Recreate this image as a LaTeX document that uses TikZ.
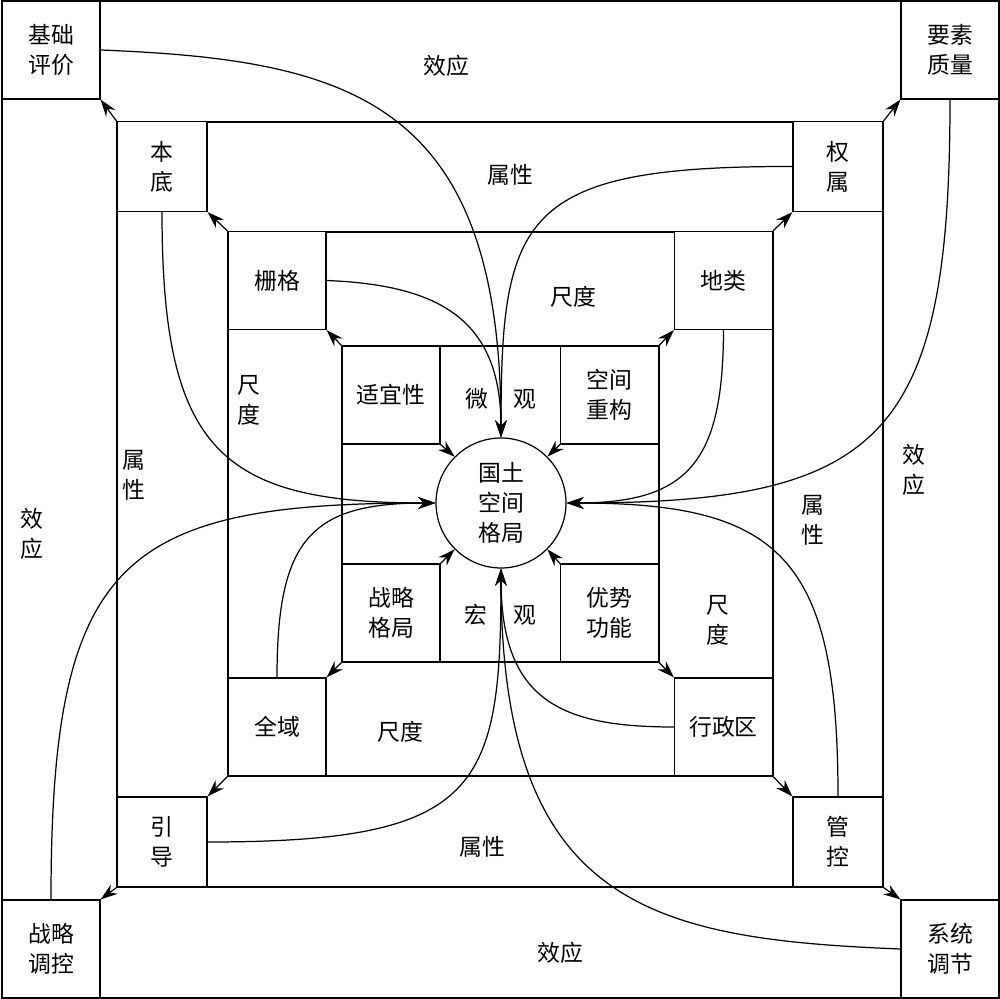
\documentclass[tikz,border=0pt]{standalone}
\usepackage{fontspec}
\setmainfont{Noto Sans CJK SC}
\usetikzlibrary{arrows.meta}

\begin{document}
\begin{tikzpicture}[x=0.02cm,y=-0.02cm,line width=0.7pt,
	every node/.style={font=\fontsize{13pt}{17pt}\selectfont,align=center,inner sep=0pt},
	bigbox/.style={draw,fill=white,minimum size=1.96cm},
	midbox/.style={draw,fill=white,minimum size=1.8cm},
	arr/.style={-{Stealth[length=0.34cm,width=0.23cm]}},
	link/.style={-{Stealth[length=0.34cm,width=0.23cm]}}]

			\useasboundingbox (0,0) rectangle (1000,999);

			\draw (2,1) rectangle (999,998);
			\draw (117,122) rectangle (883,887);
			\draw (228,232) rectangle (773,776);
			\draw (342,346) rectangle (659,662);

			\node[bigbox] (jichu) at (51,50) {基础\\评价};
			\node[bigbox] (yaosu) at (950,50) {要素\\质量};
			\node[bigbox] (tiaokong) at (51,949) {战略\\调控};
			\node[bigbox] (tiaojie) at (950,949) {系统\\调节};

			\node[midbox] (bendi) at (162,166.5) {本\\底};
			\node[midbox] (quanshu) at (838,166.5) {权\\属};
			\node[midbox] (yindao) at (162,842) {引\\导};
			\node[midbox] (guankong) at (838,842) {管\\控};

			\node[bigbox] (shange) at (277,280.5) {栅格};
			\node[bigbox] (dilei) at (723.5,280.5) {地类};
			\node[bigbox] (quanyu) at (277,727) {全域};
			\node[bigbox] (xingzheng) at (723.5,727) {行政区};

			\node[bigbox] (shiyi) at (391,395) {适宜性};
			\node[bigbox] (chonggou) at (609.5,395) {空间\\重构};
			\node[bigbox] (zhanlue) at (391,613) {战略\\格局};
			\node[bigbox] (youshi) at (609.5,613) {优势\\功能};

			\node[draw,circle,minimum size=2.6cm] (guotu) at (501,503) {国土\\空间\\格局};

			\node at (446,66) {效应};
			\node at (32,534) {效\\应};
			\node at (914,470) {效\\应};
			\node at (560,953) {效应};

			\node at (510,175) {属性};
			\node at (134,475) {属\\性};
			\node at (813,520) {属\\性};
			\node at (482,847) {属性};

			\node at (573,297) {尺度};
			\node at (249,400) {尺\\度};
			\node at (718,620) {尺\\度};
			\node at (400,732) {尺度};

			\node at (477,399) {微};
			\node at (525,399) {观};
			\node at (476,615) {宏};
			\node at (525,615) {观};

			\draw[arr] (shiyi.north west) -- (shange.south east);
			\draw[arr] (shange.north west) -- (bendi.south east);
			\draw[arr] (bendi.north west) -- (jichu.south east);
			\draw[arr] (chonggou.north east) -- (dilei.south west);
			\draw[arr] (dilei.north east) -- (quanshu.south west);
			\draw[arr] (quanshu.north east) -- (yaosu.south west);
			\draw[arr] (zhanlue.south west) -- (quanyu.north east);
			\draw[arr] (quanyu.south west) -- (yindao.north east);
			\draw[arr] (yindao.south west) -- (tiaokong.north east);
			\draw[arr] (youshi.south east) -- (xingzheng.north west);
			\draw[arr] (xingzheng.south east) -- (guankong.north west);
			\draw[arr] (guankong.south east) -- (tiaojie.north west);

			\draw[arr] (shiyi.south east) -- (guotu.north west);
			\draw[arr] (chonggou.south west) -- (guotu.north east);
			\draw[arr] (zhanlue.north east) -- (guotu.south west);
			\draw[arr] (youshi.north west) -- (guotu.south east);

			\draw[link] (jichu.east) .. controls (350,60) and (501,100) .. (guotu.north);
			\draw[link] (shange.east) .. controls (440,285) and (501,320) .. (guotu.north);
			\draw[link] (quanshu.west) .. controls (520,166) and (501,216) .. (guotu.north);

			\draw[link] (bendi.south) .. controls (162,450) and (220,503) .. (guotu.west);
			\draw[link] (quanyu.north) .. controls (277,540) and (310,503) .. (guotu.west);
			\draw[link] (tiaokong.north) .. controls (51,560) and (120,503) .. (guotu.west);

			\draw[link] (yaosu.south) .. controls (950,438) and (882,503) .. (guotu.east);
			\draw[link] (dilei.south) .. controls (723,460) and (690,503) .. (guotu.east);
			\draw[link] (guankong.north) .. controls (838,557) and (780,503) .. (guotu.east);

			\draw[link] (yindao.east) .. controls (480,842) and (501,790) .. (guotu.south);
			\draw[link] (xingzheng.west) .. controls (560,727) and (501,700) .. (guotu.south);
			\draw[link] (tiaojie.west) .. controls (651,939) and (501,906) .. (guotu.south);

		\end{tikzpicture}
\end{document}
